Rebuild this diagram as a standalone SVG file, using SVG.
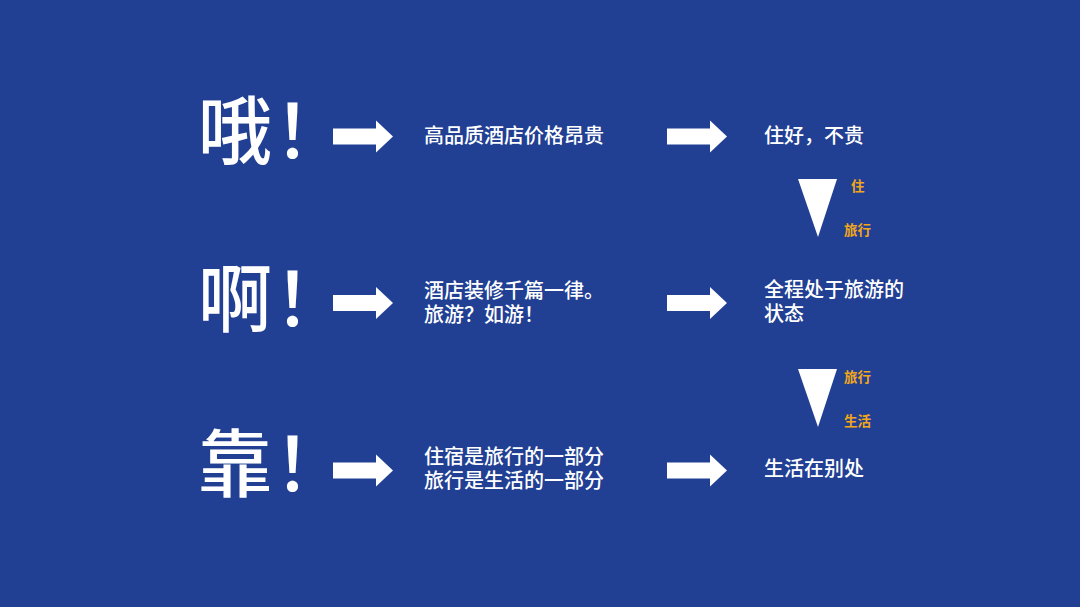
<svg xmlns="http://www.w3.org/2000/svg" width="1080" height="607" viewBox="0 0 1080 607">
<style>
.big{font-family:"Noto Sans CJK SC","Noto Sans CJK JP",sans-serif;font-size:74px;font-weight:500;fill:#ffffff}
.txt{font-family:"Noto Sans CJK SC","Noto Sans CJK JP",sans-serif;font-size:20px;font-weight:500;fill:#ffffff}
.lbl{font-family:"Noto Sans CJK SC","Noto Sans CJK JP",sans-serif;font-size:13.5px;font-weight:700;fill:#f2a71b}
.wh{fill:#ffffff}
</style>
<defs>
<path id="arr" d="M0,-8 H43 V-16 L60,0 L43,16 V8 H0 Z"/>
<path id="tri" d="M798,0 H837 L818,58 Z"/>
</defs>
<rect width="1080" height="607" fill="#213f93"/>
<g id="exclaims">
<g id="n-o"><text class="big" y="158"><tspan x="198">哦</tspan><tspan x="274">！</tspan></text></g>
<g id="n-a"><text class="big" y="326"><tspan x="198">啊</tspan><tspan x="274">！</tspan></text></g>
<g id="n-kao"><text class="big" y="491"><tspan x="198">靠</tspan><tspan x="274">！</tspan></text></g>
</g>
<g id="n-problem1"><text class="txt" x="424" y="143">高品质酒店价格昂贵</text></g>
<g id="n-problem2"><text class="txt"><tspan x="424" y="298">酒店装修千篇一律。</tspan><tspan x="424" y="322">旅游？如游！</tspan></text></g>
<g id="n-problem3"><text class="txt"><tspan x="424" y="464">住宿是旅行的一部分</tspan><tspan x="424" y="488">旅行是生活的一部分</tspan></text></g>
<g id="n-result1"><text class="txt" x="764" y="143">住好，不贵</text></g>
<g id="n-result2"><text class="txt"><tspan x="764" y="297">全程处于旅游的</tspan><tspan x="764" y="321">状态</tspan></text></g>
<g id="n-result3"><text class="txt" x="764" y="476">生活在别处</text></g>
<g id="connectors">
<use href="#arr" class="wh" transform="translate(333,136.5)"/>
<use href="#arr" class="wh" transform="translate(667,136.5)"/>
<use href="#arr" class="wh" transform="translate(333,303)"/>
<use href="#arr" class="wh" transform="translate(667,303)"/>
<use href="#arr" class="wh" transform="translate(333,470.5)"/>
<use href="#arr" class="wh" transform="translate(667,470.5)"/>
<use href="#tri" class="wh" transform="translate(0,179)"/>
<use href="#tri" class="wh" transform="translate(0,369)"/>
</g>
<g id="labels">
<text class="lbl" x="851" y="191">住</text>
<text class="lbl" x="844" y="235">旅行</text>
<text class="lbl" x="844" y="382">旅行</text>
<text class="lbl" x="844" y="426">生活</text>
</g>
</svg>
